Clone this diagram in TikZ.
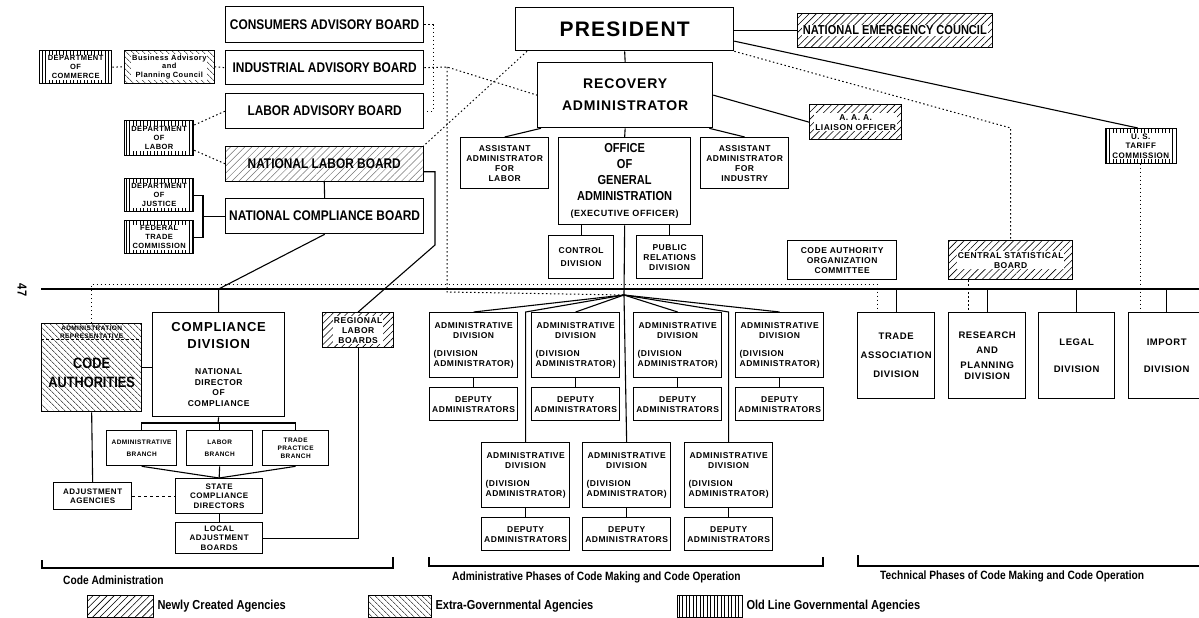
\documentclass[tikz,border=0pt]{standalone}
\usepackage{fontspec}
\setmainfont{Liberation Sans}[FakeStretch=0.85]
\newfontfamily\widefont{Liberation Sans}[LetterSpace=6]
\usetikzlibrary{patterns.meta}
\newcommand\fsz[2]{\fontsize{#1}{#2}\selectfont}
\newcommand\admtext{ADMINISTRATIVE\\DIVISION\\[8pt]\makebox[80pt][l]{(DIVISION}\\\makebox[80pt][r]{ADMINISTRATOR)}}
\tikzset{
  org/.style={draw, line width=1.3pt, align=center, inner sep=1pt, anchor=north west, font=\bfseries},
  smalltxt/.style={font=\widefont\bfseries\fsz{8.5}{10}},
  ontext/.style={fill=white, inner sep=0.8pt, align=center},
  sz/.style 2 args={minimum width=#1pt, minimum height=#2pt},
  newag/.style={pattern={Lines[angle=45,distance=5pt,line width=0.6pt]}},
  extrag/.style={pattern={Lines[angle=-45,distance=4pt,line width=0.6pt]}},
  oldag/.style={pattern={Lines[angle=90,distance=3.5pt,line width=0.6pt]}},
  link/.style={line width=1.1pt},
  rel/.style={line width=1pt, dash pattern=on 1.5pt off 2.5pt},
  caption/.style={font=\bfseries\fsz{12}{14}, anchor=west, inner sep=0pt},
}
\begin{document}
\begin{tikzpicture}[x=1pt,y=-1pt]
\useasboundingbox (0,0) rectangle (1199,618);
\node[org,sz={218}{43},font=\widefont\bfseries\fsz{21}{24}] (pres) at (515,7) {PRESIDENT};
\node[org,sz={175}{65},font=\widefont\bfseries\fsz{14}{22}] (ra) at (537,62) {RECOVERY\\ADMINISTRATOR};
\node[org,sz={88}{51},smalltxt] (aal) at (460,137) {ASSISTANT\\ADMINISTRATOR\\FOR\\LABOR};
\node[org,sz={132}{87},font=\bfseries\fsz{13}{16}] (oga) at (558,137) {OFFICE\\OF\\GENERAL\\ADMINISTRATION\\\widefont\fsz{9}{12}(EXECUTIVE OFFICER)};
\node[org,sz={88}{51},smalltxt] (aai) at (700,137) {ASSISTANT\\ADMINISTRATOR\\FOR\\INDUSTRY};
\node[org,sz={65}{43},smalltxt] (ctrl) at (548,235) {CONTROL\\[3pt]DIVISION};
\node[org,sz={66}{43},smalltxt] (pubrel) at (636,235) {PUBLIC\\RELATIONS\\DIVISION};
\node[org,sz={109}{39},smalltxt] (caoc) at (787,240) {CODE AUTHORITY\\ORGANIZATION\\COMMITTEE};
\node[org,sz={195}{34},newag] (nec) at (797,13) {};
\node[ontext,font=\bfseries\fsz{13}{15}] (nect) at (nec.center) {NATIONAL EMERGENCY COUNCIL};
\node[org,sz={92}{35},newag] (aaa) at (809,104) {};
\node[ontext,smalltxt] (aaat) at (aaa.center) {A. A. A.\\LIAISON OFFICER};
\node[org,sz={71}{35},oldag] (ustc) at (1105,128) {};
\node[ontext,font=\widefont\bfseries\fsz{8}{9.5}] (ustct) at (ustc.center) {U. S.\\TARIFF\\COMMISSION};
\node[org,sz={124}{39},newag] (csb) at (948,240) {};
\node[ontext,smalltxt] (csbt) at (csb.center) {CENTRAL STATISTICAL\\BOARD};

\node[org,sz={198}{36},font=\bfseries\fsz{14}{16}] (cab) at (225,6) {CONSUMERS ADVISORY BOARD};
\node[org,sz={198}{34},font=\bfseries\fsz{14}{16}] (iab) at (225,50) {INDUSTRIAL ADVISORY BOARD};
\node[org,sz={198}{35},font=\bfseries\fsz{14}{16}] (lab) at (225,93) {LABOR ADVISORY BOARD};
\node[org,sz={198}{35},font=\bfseries\fsz{14}{16},pattern={Lines[angle=45,distance=5pt,line width=0.5pt]},pattern color=black!55] (nlb) at (225,146) {NATIONAL LABOR BOARD};
\node[org,sz={198}{35},font=\bfseries\fsz{14}{16}] (ncb) at (225,198) {NATIONAL COMPLIANCE BOARD};
\node[org,sz={72}{33},oldag] (dcom) at (39,50) {};
\node[ontext,font=\widefont\bfseries\fsz{7.5}{9}] (dcomt) at (dcom.center) {DEPARTMENT\\OF\\COMMERCE};
\node[org,sz={90}{33},extrag] (bapc) at (124,50) {};
\node[ontext,font=\widefont\bfseries\fsz{7.5}{8.5}] (bapct) at (bapc.center) {Business Advisory\\and\\Planning Council};
\node[org,sz={69}{35},oldag] (dlab) at (124,120) {};
\node[ontext,font=\widefont\bfseries\fsz{7.5}{9}] (dlabt) at (dlab.center) {DEPARTMENT\\OF\\LABOR};
\node[org,sz={69}{33},oldag] (djus) at (124,178) {};
\node[ontext,font=\widefont\bfseries\fsz{7.5}{9}] (djust) at (djus.center) {DEPARTMENT\\OF\\JUSTICE};
\node[org,sz={69}{33},oldag] (ftc) at (124,220) {};
\node[ontext,font=\widefont\bfseries\fsz{7.5}{9}] (ftct) at (ftc.center) {FEDERAL\\TRADE\\COMMISSION};

\node[org,sz={100}{88},extrag] (ca) at (41,323) {};
\node[font=\widefont\bfseries\fsz{6.5}{7.5},anchor=north,align=center,inner sep=1pt] (cahead) at ([yshift=-2pt]ca.north) {ADMINISTRATION\\REPRESENTATIVE};
\node[font=\bfseries\fsz{15}{19},align=center,inner sep=1pt] (catext) at ([yshift=-5pt]ca.center) {CODE\\AUTHORITIES};
\draw[densely dashed,line width=0.8pt] ([yshift=-16pt]ca.north west) -- ([yshift=-16pt]ca.north east);
\node[org,sz={132}{104},font=\widefont\bfseries\fsz{8.5}{10.5}] (cd) at (152,312) {\fsz{13}{15}COMPLIANCE\\[6pt]\fsz{13}{15}DIVISION\\[16pt]NATIONAL\\DIRECTOR\\OF\\COMPLIANCE};
\node[org,sz={71}{35},newag] (rlb) at (322,312) {};
\node[ontext,smalltxt] (rlbt) at (rlb.center) {REGIONAL\\LABOR\\BOARDS};
\node[org,sz={70}{35},font=\widefont\bfseries\fsz{6.5}{8}] (abr) at (106,430) {ADMINISTRATIVE\\[4pt]BRANCH};
\node[org,sz={66}{35},font=\widefont\bfseries\fsz{6.5}{8}] (lbr) at (186,430) {LABOR\\[4pt]BRANCH};
\node[org,sz={66}{35},font=\widefont\bfseries\fsz{6.5}{8}] (tpb) at (262,430) {TRADE\\PRACTICE\\BRANCH};
\node[org,sz={87}{35},font=\widefont\bfseries\fsz{8}{9.5}] (scd) at (175,478) {STATE\\COMPLIANCE\\DIRECTORS};
\node[org,sz={87}{31},font=\widefont\bfseries\fsz{8}{9.5}] (ladj) at (175,522) {LOCAL\\ADJUSTMENT\\BOARDS};
\node[org,sz={78}{27},font=\widefont\bfseries\fsz{8}{9.5}] (aag) at (53,482) {ADJUSTMENT\\AGENCIES};

\foreach \n/\x in {1/429,2/531,3/633,4/735} {
  \node[org,sz={88}{65},smalltxt] (adm\n) at (\x,312) {\admtext};
  \node[org,sz={88}{33},smalltxt] (dep\n) at (\x,387) {DEPUTY\\ADMINISTRATORS};
  \draw[link] (adm\n.south) -- (dep\n.north);
}
\foreach \n/\x in {5/481,6/582,7/684} {
  \node[org,sz={88}{65},smalltxt] (adm\n) at (\x,442) {\admtext};
  \node[org,sz={88}{33},smalltxt] (dep\n) at (\x,517) {DEPUTY\\ADMINISTRATORS};
  \draw[link] (adm\n.south) -- (dep\n.north);
}

\node[org,sz={77}{86},font=\widefont\bfseries\fsz{9.5}{11}] (trade) at (857,312) {TRADE\\[8pt]ASSOCIATION\\[8pt]DIVISION};
\node[org,sz={77}{86},font=\widefont\bfseries\fsz{9.5}{11}] (resp) at (948,312) {RESEARCH\\[4pt]AND\\[4pt]PLANNING\\DIVISION};
\node[org,sz={76}{86},font=\widefont\bfseries\fsz{9.5}{11}] (legal) at (1038,312) {LEGAL\\[16pt]DIVISION};
\node[org,sz={76}{86},font=\widefont\bfseries\fsz{9.5}{11}] (import) at (1128,312) {IMPORT\\[16pt]DIVISION};

\coordinate (ml) at (0,289);
\coordinate (dl) at (0,284);
\coordinate (dl2) at (0,292);
\coordinate (mlw) at (41,289);
\coordinate (mle) at (1205,289);
\coordinate (fan) at (624,295);
\draw[link] (mlw) -- (mle);

\draw[link] (pres.south) -- (ra.north);
\draw[link] (pres.east |- nec.west) -- (nec.west);
\draw[link] ([yshift=-12pt]pres.east) -- ([xshift=-3pt]ustc.north);
\draw[rel] (pres.south east) -- (csb.north |- ustc.north) -- (csb.north);
\draw[link] (ra.east) -- (aaa.west);
\draw[link] ([xshift=4pt]ra.south west) -- (aal.north);
\draw[link] ([xshift=-4pt]ra.south east) -- (aai.north);
\draw[link] (ra.south) -- (oga.north);
\draw[link] (ctrl.north) -- (ctrl.north |- oga.south);
\draw[link] (pubrel.north) -- (pubrel.north |- oga.south);
\draw[link] (oga.south) -- (fan);
\foreach \n in {1,...,4} \draw[link] (fan) -- (adm\n.north);
\draw[link] (fan) -- (adm5.north |- adm1.north) -- (adm5.north);
\draw[link] (fan) -- (adm6.north);
\draw[link] (fan) -- (adm7.north |- adm1.north) -- (adm7.north);

\draw[rel] (dcom.east) -- (bapc.west);
\draw[rel] (bapc.east) -- (iab.west);
\draw[rel] ([yshift=-5pt]dlab.north east) -- (lab.west);
\draw[rel] ([yshift=6pt]dlab.south east) -- (nlb.west);
\coordinate (jx) at (203,0);
\draw[link] (djus.east) -| (jx |- ncb.west) |- (ftc.east);
\draw[link] (jx |- ncb.west) -- (ncb.west);
\draw[link] (nlb.south) -- (ncb.north);
\coordinate (nlbx) at (435,245);
\draw[link] ([yshift=-8pt]nlb.east) -| (nlbx) -- (rlb.north);
\draw[link] (ncb.south) -- (cd.north |- ml) -- (cd.north);
\draw[link] (ca.east) -- (ca.east -| cd.west);
\draw[link] (ca.south) -- (aag.north);
\draw[dashed,line width=1pt] (aag.east) -- (scd.west);
\coordinate (brk) at (218,423);
\draw[link] (cd.south) -- (brk);
\draw[link] (abr.north) |- (brk) -| (tpb.north);
\draw[link] (lbr.north) -- (lbr.north |- brk);
\foreach \b in {abr,lbr,tpb} \draw[link] (\b.south) -- (scd.north);
\draw[link] (scd.south) -- (ladj.north);
\draw[link] (rlb.south) |- (ladj.east);

\coordinate (advx) at (433,0);
\draw[rel] (cab.east) -| (advx |- lab.east) -- (lab.east);
\coordinate (indx) at (447,67);
\draw[rel] (iab.east) -- (indx) -- (ra.west);
\draw[rel] (indx) -- (indx |- dl2) -- (fan);
\coordinate (tdx) at (877,0);
\draw[rel] (ca.north) -- (ca.north |- dl) -- (tdx |- dl) -- (tdx |- trade.north);
\draw[rel] ([xshift=12pt]pres.south west) -- (nlb.north east);
\draw[rel] (ustc.south) -- (ustc.south |- import.north);
\coordinate (rpx) at (968,0);
\draw[rel] (rpx |- csb.south) -- (rpx |- resp.north);
\foreach \d in {trade,resp,legal,import} \draw[link] (\d.north |- ml) -- (\d.north);

\draw[link] (42,560) |- (393,568) -- (393,557);
\draw[link] (429,557) |- (823,566) -- (823,557);
\draw[link] (858,555) |- (1205,566);
\node[caption] (capcode) at (63,580) {Code Administration};
\node[caption] (capadm) at (452,577) {Administrative Phases of Code Making and Code Operation};
\node[caption] (captech) at (880,576) {Technical Phases of Code Making and Code Operation};

\node[org,sz={66}{22},newag] (lgnew) at (87,595) {};
\node[caption,font=\bfseries\fsz{13}{15}] (lgnewt) at ([xshift=3pt]lgnew.east) {Newly Created Agencies};
\node[org,sz={63}{22},extrag] (lgext) at (368,595) {};
\node[caption,font=\bfseries\fsz{13}{15}] (lgextt) at ([xshift=3pt]lgext.east) {Extra-Governmental Agencies};
\node[org,sz={65}{22},oldag] (lgold) at (677,595) {};
\node[caption,font=\bfseries\fsz{13}{15}] (lgoldt) at ([xshift=3pt]lgold.east) {Old Line Governmental Agencies};

\node[font=\bfseries\fsz{13}{13},rotate=-90] (pageno) at (22,290) {47};
\end{tikzpicture}
\end{document}
